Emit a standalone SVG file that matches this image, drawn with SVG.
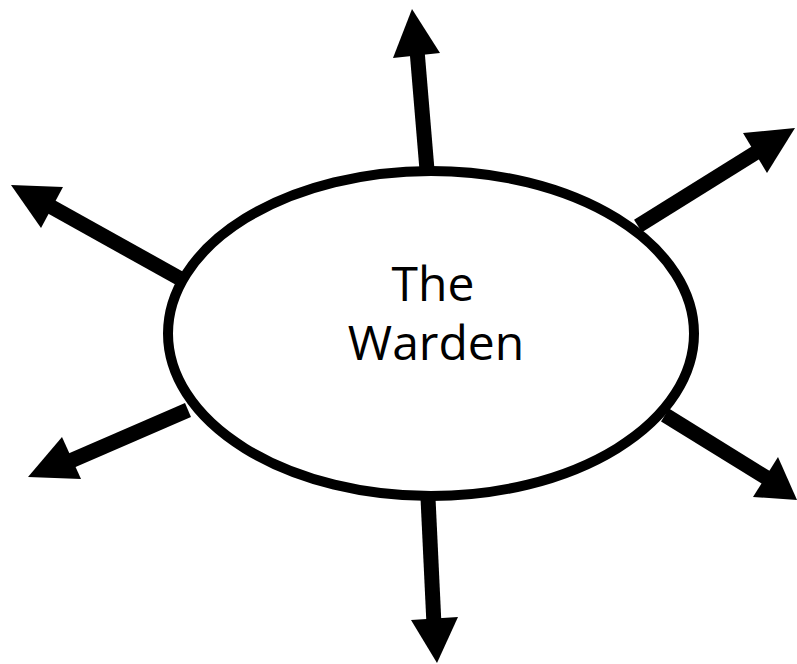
<svg xmlns="http://www.w3.org/2000/svg" width="797" height="664" viewBox="0 0 797 664">
<style>
.shaft{stroke:#000;stroke-width:15;fill:none}
.head{fill:#000;stroke:none}
.node{fill:#fff;stroke:#000;stroke-width:10}
.lbl{font-family:"Open Sans","Liberation Sans",sans-serif;font-size:48px;fill:#000;text-anchor:middle}
</style>
<rect width="797" height="664" fill="#fff"/>
<g id="connectors">
<line class="shaft" x1="427" y1="170" x2="417" y2="50"/>
<polygon class="head" points="412,9 393,58 440,53"/>
<line class="shaft" x1="638" y1="226" x2="760" y2="150"/>
<polygon class="head" points="795,128 743,133 767,173"/>
<line class="shaft" x1="179" y1="278" x2="48" y2="205"/>
<polygon class="head" points="11,185 63,187 41,228"/>
<line class="shaft" x1="188" y1="410" x2="68" y2="462"/>
<polygon class="head" points="28,477 62,437 81,479"/>
<line class="shaft" x1="665" y1="415" x2="770" y2="480"/>
<polygon class="head" points="797,500 778,457 753,497"/>
<line class="shaft" x1="428" y1="498" x2="434" y2="625"/>
<polygon class="head" points="437,663 411,620 458,617"/>
</g>
<g id="warden">
<ellipse class="node" cx="431" cy="333.5" rx="263" ry="162.5"/>
<text class="lbl" x="433" y="301">The</text>
<text class="lbl" x="436" y="360">Warden</text>
</g>
</svg>
